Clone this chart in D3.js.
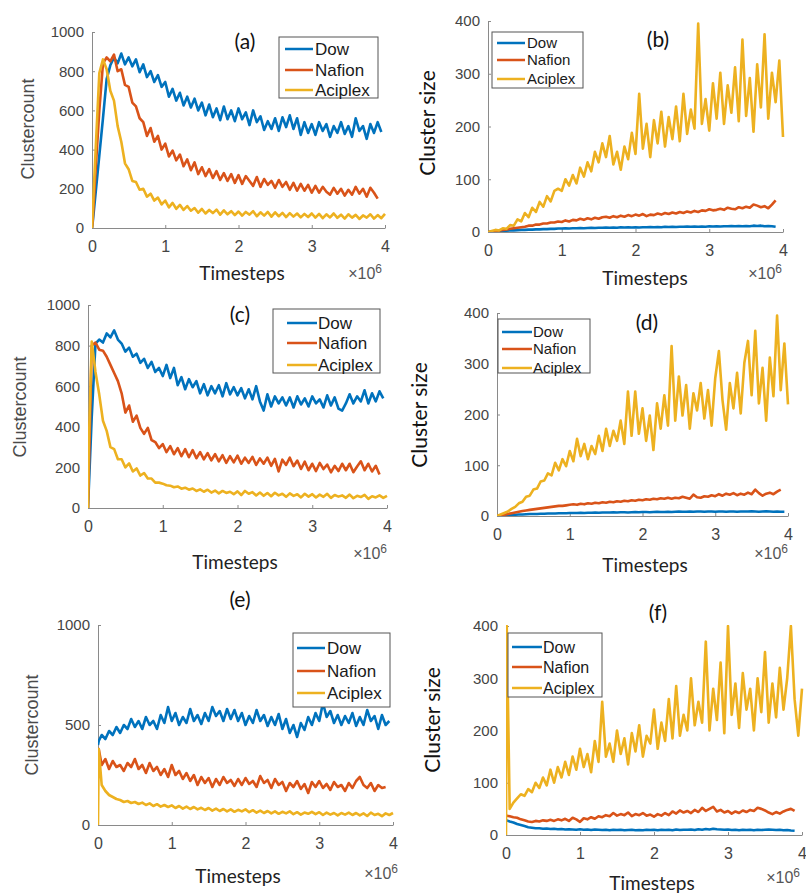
<!DOCTYPE html>
<html>
<head>
<meta charset="utf-8">
<script src="https://cdnjs.cloudflare.com/ajax/libs/d3/7.8.5/d3.min.js"></script>
<style>
  body { margin: 0; background: #fff; }
  .tick text { font-family: "Liberation Sans", Arial, sans-serif; fill: #444; }
  .axis path, .axis line { stroke: #8a8a8a; }
</style>
</head>
<body>
<svg id="chart"></svg>
<script>
// sample times, in units of 1e6 timesteps (first step is short, then every 0.05)
var timeGrid = [0, 0.01].concat(d3.range(1, 81).map(function(i){ return i * 0.05 }))

var seriesNames = ["Dow", "Nafion", "Aciplex"]
var seriesColors = ["#0072BD", "#D95319", "#EDB120"]
var xTickValues = [0, 1, 2, 3, 4]
var countTicks = [0, 200, 400, 600, 800, 1000]
var countTicksE = [0, 500, 1000]
var sizeTicks = [0, 100, 200, 300, 400]
var panelTitles = ["(a)", "(b)", "(c)", "(d)", "(e)", "(f)"]

//(a) cluster count
var dowA = [0,30,180,370,560,760,830,870,840,890,
  835,870,825,860,795,835,770,800,745,780,
  720,745,670,710,650,690,625,670,615,660,
  600,640,575,630,565,610,550,620,555,600,
  545,610,555,590,525,600,540,570,500,545,
  505,560,495,565,515,575,505,560,475,540,
  485,530,475,540,495,530,465,520,485,540,
  480,520,465,560,495,520,455,530,485,540,490]
var nafionA = [0,40,300,600,840,870,850,885,800,810,
  730,720,640,620,560,540,470,510,440,470,
  400,430,365,395,345,375,315,350,295,335,
  275,310,265,300,255,290,245,280,240,275,
  230,270,225,265,240,215,260,210,250,220,
  240,205,245,210,235,195,230,190,225,190,
  220,180,215,180,210,185,170,205,175,200,
  165,195,170,210,175,200,160,205,180,150]
var aciplexA = [0,80,400,790,860,810,700,650,520,440,
  330,300,240,235,195,200,160,175,140,155,
  120,140,105,128,98,118,92,112,88,102,
  78,97,74,92,76,94,68,90,70,86,
  66,84,63,82,68,86,60,80,63,82,
  58,80,60,77,56,76,58,74,54,72,
  56,74,53,72,50,70,54,74,52,68,
  48,70,53,67,46,64,53,70,48,66,50,72]

//(b) cluster size
var dowB = [0,0,0.5,1,1.5,2,2.5,3,3,3.5,
  4,4,4.5,4.5,5,5,5.5,5.5,6,6,
  6.5,6.5,7,6.5,7,7,7.5,7,7.5,8,
  7.5,8,8,8.5,8,8.5,8,9,8.5,9,
  8.5,9,8.5,9,9,9.5,9,9.5,9,10,
  9.5,10,9.5,10,10,10.5,10,10.5,10,10.5,
  10,11,10.5,11,10.5,11,11,11.5,11,11.5,
  11,11.5,11,12,11.5,12,11,11.5,11,10]
var nafionB = [0,0,1,2,3,4,5,6,7,8,
  9,10,12,12,14,14,16,16,18,18,
  20,19,22,20,23,22,25,23,26,24,
  27,25,28,29,27,30,28,31,29,32,
  30,33,31,34,30,33,32,35,33,36,
  34,37,35,38,36,39,37,40,38,41,
  40,43,41,42,44,42,46,44,43,47,
  45,48,46,52,50,47,49,45,52,60]
var aciplexB = [0,0,2,4,3,7,6,13,12,24,
  20,36,28,46,38,57,48,68,58,78,
  82,78,100,88,108,92,122,105,132,115,
  152,132,168,142,182,128,152,118,162,138,
  188,148,262,158,205,142,212,168,228,162,
  218,176,238,172,262,186,232,196,395,205,
  252,192,282,215,302,205,278,226,312,210,
  365,220,292,190,318,236,375,215,302,246,325,180]

//(c) cluster count
var dowC = [0,90,450,810,830,815,860,840,875,830,
  810,770,790,745,760,715,735,690,720,670,
  690,650,705,640,690,605,645,585,635,595,
  625,565,610,555,600,565,605,550,615,560,
  595,555,590,540,585,535,600,525,480,560,
  500,550,515,545,505,545,495,550,510,540,
  500,550,515,535,495,555,505,545,490,480,
  515,560,515,550,525,580,515,565,525,575,540]
var nafionC = [0,150,800,815,780,775,745,705,665,625,
  565,470,505,425,455,395,365,395,335,325,
  295,315,275,305,265,295,255,290,250,285,
  245,275,240,270,235,265,230,260,222,255,
  225,258,218,248,222,252,212,244,218,248,
  208,242,180,238,212,248,206,234,192,228,
  186,218,182,222,192,214,176,208,182,218,
  186,218,176,204,230,186,218,180,208,165]
var aciplexC = [0,300,820,670,560,430,380,300,290,240,
  240,200,220,180,195,160,172,145,145,125,
  125,120,112,110,102,106,95,100,90,96,
  84,92,80,90,76,86,72,84,74,80,
  68,82,64,84,70,78,62,76,60,74,
  58,75,62,70,55,72,60,68,52,70,
  56,68,52,66,55,70,50,64,56,62,
  50,66,48,60,54,65,45,58,52,62,50,60]

//(d) cluster size
var dowD = [0,0,0.5,1,1.5,2,2.5,3,3,3.5,
  4,4,4,4.5,4.5,5,5,5,5.5,5.5,
  5.5,6,6,6,6.5,6,6.5,6.5,7,6.5,
  7,7,7,7.5,7,7.5,7.5,7,7.5,8,
  7.5,8,8,7.5,8,8.5,8,8,8.5,8,
  8.5,9,8.5,8.5,9,8.5,9,9,8.5,9,
  9,8.5,9,9,8.5,9,9,8.5,9,9,
  9,9.5,9,8.5,9,9.5,9,8.5,9,8.5,8.5]
var nafionD = [0,0,1,2.5,4,5.5,7,8.5,10,11,
  12,13,14,15,16,17,18,19,20,20,
  21,22,23,22,24,23,25,24,26,25,
  27,26,28,27,29,28,30,29,31,30,
  32,31,33,32,34,33,35,34,36,34,
  36,35,38,36,34,42,37,36,39,38,
  41,39,43,40,44,42,45,41,44,42,
  46,43,52,45,40,44,46,43,48,52]
var aciplexD = [0,0.5,3,6,9,14,18,25,28,38,
  40,52,54,68,70,84,80,105,90,112,
  98,128,108,152,118,142,112,138,122,158,
  128,172,138,168,148,188,142,245,158,245,
  162,212,148,198,130,222,172,238,178,335,
  188,275,198,258,172,242,208,262,192,248,
  178,272,325,228,170,262,212,282,202,302,
  345,238,365,222,292,188,312,236,395,248,340,220]

//(e) cluster count
var dowE = [400,420,450,430,470,450,490,460,500,480,
  530,490,520,480,540,500,520,480,550,510,
  590,520,560,500,540,510,580,520,550,505,
  560,520,590,545,570,520,580,530,575,520,
  560,500,545,510,575,520,550,495,540,500,
  555,480,530,460,500,440,510,475,540,500,
  560,520,610,540,570,510,550,500,545,510,
  560,495,540,500,575,520,545,480,550,500,520]
var nafionE = [370,380,300,330,280,320,290,300,270,310,
  290,330,280,300,260,310,270,290,250,280,
  240,300,250,270,230,260,220,250,200,240,
  210,235,190,230,200,240,210,225,195,230,
  200,235,205,220,190,245,210,225,185,230,
  200,215,170,210,190,220,180,205,160,215,
  190,220,185,205,175,215,190,200,170,210,
  185,220,240,200,185,210,170,200,185,190]
var aciplexE = [0,380,200,170,150,140,130,125,115,120,
  110,115,105,112,100,108,95,104,92,100,
  90,98,85,95,82,92,80,90,78,86,
  75,85,72,82,70,80,68,78,66,76,
  68,78,64,74,62,72,60,70,58,68,
  56,66,58,68,54,64,52,62,56,66,
  54,64,50,62,52,60,48,60,52,62,
  50,60,48,58,45,62,50,56,44,58,50,60]

//(f) cluster size
var dowF = [28,28,26,24,21,19,17,15,14,13,
  13,12,12.5,11.5,12,11,11.5,10.5,11,10.5,
  10,11,10,10.5,9.5,10.5,10,9.5,10,9,
  10,9.5,10,9,9.5,10,9,9.5,9,10,
  9.5,10,9,10,9.5,10,9,10.5,9.5,10,
  10,10.5,9.5,11,10,11.5,10.5,12,11,10.5,
  10,10.5,9.5,10,9,10,9.5,10,9,10,
  9.5,10,10.5,10,9.5,10,9,9.5,8.5,8]
var nafionF = [38,37,36,34,33,30,28,26,25,27,
  26,28,27,29,27,30,28,31,27,33,
  30,25,32,30,34,31,36,34,38,36,
  42,37,40,38,43,36,40,38,42,37,
  39,35,40,37,42,38,45,41,47,43,
  46,42,48,44,52,46,50,54,45,48,
  43,46,41,45,42,47,44,48,46,52,
  50,47,43,40,44,41,45,48,50,46]
var aciplexF = [0,400,50,62,70,78,75,88,82,100,
  90,110,95,125,100,130,110,140,115,150,
  125,165,130,155,120,180,140,255,150,175,
  140,200,155,185,135,195,160,210,150,190,
  175,240,165,215,180,260,185,285,190,230,
  200,300,210,255,215,370,200,280,220,330,
  195,400,230,290,205,310,240,280,200,300,
  235,350,215,290,225,320,240,300,400,260,190,280]

var w = 806
var h = 893

var svg = d3.select("#chart")
    .attr("width", w)
    .attr("height", h)

var panels = [
  {key:"a", series:[dowA,nafionA,aciplexA], yMax:1000, yTicks:countTicks, ylabel:"Clustercount",
   x0:92, x1:385, yTop:32, yBot:228, title:[245,42], ylab:[28,129], tsteps:[242,273], pow:[382,273],
   legend:{x:279, y:37, w:99, h:61, rows:[49,70,90], lx:[285,313], tx:315, fs:17}},
  {key:"b", series:[dowB,nafionB,aciplexB], yMax:400, yTicks:sizeTicks, ylabel:"Cluster size",
   x0:488, x1:783, yTop:21, yBot:232, title:[658,40], ylab:[428,123], tsteps:[645,278], pow:[782,273],
   legend:{x:492, y:32, w:91, h:56, rows:[43,60,79], lx:[497,525], tx:527, fs:15}},
  {key:"c", series:[dowC,nafionC,aciplexC], yMax:1000, yTicks:countTicks, ylabel:"Clustercount",
   x0:88, x1:387, yTop:305, yBot:508, title:[240,315], ylab:[20,407], tsteps:[235,562], pow:[387,553],
   legend:{x:273, y:309, w:107, h:64, rows:[323,343,365], lx:[287,317], tx:318, fs:17}},
  {key:"d", series:[dowD,nafionD,aciplexD], yMax:400, yTicks:sizeTicks, ylabel:"Cluster size",
   x0:497, x1:788, yTop:313, yBot:516, title:[647,323], ylab:[420,415], tsteps:[645,565], pow:[788,553],
   legend:{x:498, y:319, w:92, h:54, rows:[332,349,368], lx:[502,532], tx:533, fs:15}},
  {key:"e", series:[dowE,nafionE,aciplexE], yMax:1000, yTicks:countTicksE, ylabel:"Clustercount",
   x0:98, x1:393, yTop:625, yBot:825, title:[240,600], ylab:[32,725], tsteps:[238,876], pow:[398,873],
   legend:{x:293, y:633, w:97, h:74, rows:[648,671,693], lx:[297,325], tx:327, fs:17}},
  {key:"f", series:[dowF,nafionF,aciplexF], yMax:400, yTicks:sizeTicks, ylabel:"Cluster size",
   x0:506, x1:802, yTop:626, yBot:835, title:[658,613], ylab:[433,720], tsteps:[652,883], pow:[800,877],
   legend:{x:508, y:633, w:94, h:64, rows:[647,667,688], lx:[512,542], tx:543, fs:16}}
]

panels.forEach(function(p, k){ drawPanel(p, k) })

function drawPanel(p, k){
    var x = d3.scaleLinear().domain([0, 4]).range([p.x0, p.x1])
    var y = d3.scaleLinear().domain([0, p.yMax]).range([p.yBot, p.yTop])
    var g = svg.append("g").attr("class", "panel-" + p.key)

    //axes, ticks point inward like matlab
    g.append("g")
        .attr("class", "axis")
        .attr("transform", "translate(" + p.x0 + ",0)")
        .call(d3.axisLeft(y).tickValues(p.yTicks).tickFormat(d3.format("d"))
            .tickSizeInner(-3).tickSizeOuter(0).tickPadding(8))
        .selectAll("text").style("font-size", "15px")

    g.append("g")
        .attr("class", "axis")
        .attr("transform", "translate(0," + p.yBot + ")")
        .call(d3.axisBottom(x).tickValues(xTickValues).tickFormat(d3.format("d"))
            .tickSizeInner(-3).tickSizeOuter(0).tickPadding(13))
        .selectAll("text").style("font-size", "16px")

    g.selectAll(".domain").attr("stroke", "#8a8a8a")

    //clip to the plot area
    g.append("clipPath")
        .attr("id", "clip-" + p.key)
        .append("rect")
        .attr("x", p.x0).attr("y", p.yTop - 1)
        .attr("width", p.x1 - p.x0 + 2).attr("height", p.yBot - p.yTop + 1)

    var line = d3.line()
        .x(function(d, i){ return x(timeGrid[i]) })
        .y(function(d){ return y(d) })

    g.append("g")
        .attr("clip-path", "url(#clip-" + p.key + ")")
        .selectAll("path")
        .data(p.series)
        .enter()
        .append("path")
        .attr("d", line)
        .attr("fill", "none")
        .attr("stroke", function(d, i){ return seriesColors[i] })
        .attr("stroke-width", 2.6)
        .attr("stroke-linejoin", "round")

    //legend
    var L = p.legend
    g.append("rect")
        .attr("x", L.x).attr("y", L.y)
        .attr("width", L.w).attr("height", L.h)
        .attr("fill", "#fff")
        .attr("stroke", "#555")
        .attr("stroke-width", 1)
    seriesNames.forEach(function(name, i){
        g.append("line")
            .attr("x1", L.lx[0]).attr("x2", L.lx[1])
            .attr("y1", L.rows[i]).attr("y2", L.rows[i])
            .attr("stroke", seriesColors[i])
            .attr("stroke-width", 2.5)
        g.append("text")
            .attr("x", L.tx).attr("y", L.rows[i])
            .attr("dy", "0.35em")
            .attr("font-family", "Liberation Sans, Arial, sans-serif")
            .attr("font-size", L.fs)
            .attr("fill", "#1a1a1a")
            .text(name)
    })

    //panel letter
    g.append("text")
        .attr("x", p.title[0]).attr("y", p.title[1])
        .attr("dy", "0.35em")
        .attr("text-anchor", "middle")
        .attr("font-family", "Lato, sans-serif")
        .attr("font-size", 21)
        .attr("fill", "#111")
        .text(panelTitles[k])

    //y label: arial grey for counts, calibri-ish black for sizes
    var isCount = p.ylabel == "Clustercount"
    g.append("text")
        .attr("transform", "translate(" + p.ylab[0] + "," + p.ylab[1] + ") rotate(-90)")
        .attr("dy", "0.35em")
        .attr("text-anchor", "middle")
        .attr("font-family", isCount ? "Liberation Sans, Arial, sans-serif" : "Lato, sans-serif")
        .attr("font-size", isCount ? 18 : 21)
        .attr("fill", isCount ? "#4a4a4a" : "#111")
        .text(p.ylabel)

    g.append("text")
        .attr("x", p.tsteps[0]).attr("y", p.tsteps[1])
        .attr("dy", "0.35em")
        .attr("text-anchor", "middle")
        .attr("font-family", "Lato, sans-serif")
        .attr("font-size", 19)
        .attr("fill", "#222")
        .text("Timesteps")

    var pw = g.append("text")
        .attr("x", p.pow[0]).attr("y", p.pow[1])
        .attr("dy", "0.35em")
        .attr("text-anchor", "end")
        .attr("font-family", "Liberation Sans, Arial, sans-serif")
        .attr("font-size", 16)
        .attr("fill", "#555")
    pw.append("tspan").text("\u00d710")
    pw.append("tspan").attr("dy", "-0.45em").attr("font-size", 12).text("6")
}
</script>
</body>
</html>
